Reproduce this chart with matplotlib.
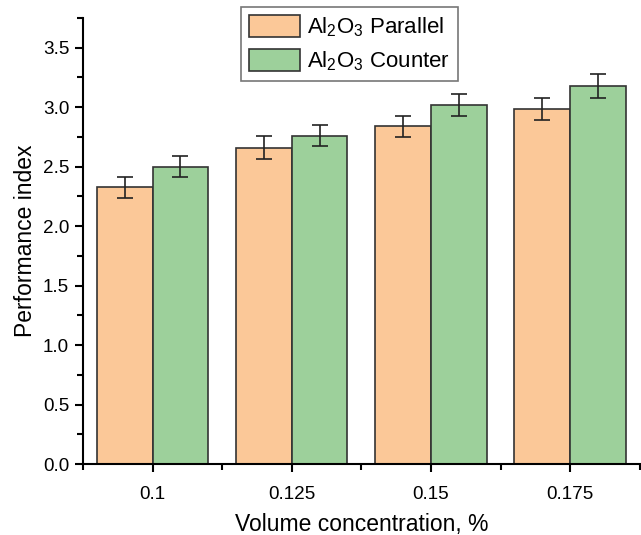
import numpy as np
import matplotlib.pyplot as plt
from matplotlib.ticker import MultipleLocator

plt.rcParams['font.family'] = ['Liberation Sans', 'DejaVu Sans']
plt.rcParams['mathtext.default'] = 'regular'

categories = ['0.1', '0.125', '0.15', '0.175']
parallel = [2.325, 2.66, 2.84, 2.985]
counter = [2.50, 2.76, 3.02, 3.175]
parallel_err = [0.09, 0.095, 0.09, 0.095]
counter_err = [0.09, 0.09, 0.095, 0.10]

fig = plt.figure(figsize=(6.41, 5.35), dpi=100)
ax = fig.add_axes([0.1295, 0.1327, 0.8685, 0.8337])

x = np.arange(len(categories))
w = 0.4
ekw = dict(elinewidth=1.2, capthick=1.2, ecolor='#222222')
ax.bar(x - w / 2, parallel, w, color='#FBC898', edgecolor='#333333', linewidth=1.2,
       yerr=parallel_err, capsize=6, error_kw=ekw, label='Al$_2$O$_3$ Parallel')
ax.bar(x + w / 2, counter, w, color='#9DD09B', edgecolor='#333333', linewidth=1.2,
       yerr=counter_err, capsize=6, error_kw=ekw, label='Al$_2$O$_3$ Counter')

ax.set_xlim(-0.5, 3.5)
ax.set_ylim(0, 3.75)
ax.set_xticks(x)
ax.set_xticklabels(categories)
ax.xaxis.set_minor_locator(MultipleLocator(1, offset=0.5))
ax.yaxis.set_major_locator(MultipleLocator(0.5))
ax.yaxis.set_minor_locator(MultipleLocator(0.25))
ax.yaxis.set_major_formatter(plt.FormatStrFormatter('%.1f'))

for s in ['top', 'right']:
    ax.spines[s].set_visible(False)
for s in ['left', 'bottom']:
    ax.spines[s].set_linewidth(1.5)
ax.tick_params(which='major', length=6, width=1.5, labelsize=13.6, pad=4)
ax.tick_params(which='minor', length=4, width=1.5)
ax.tick_params(axis='x', which='major', pad=10)

ax.set_xlabel('Volume concentration, %', fontsize=16.5, labelpad=7)
ax.set_ylabel('Performance index', fontsize=16.5, labelpad=4)

leg = ax.legend(loc='upper center', bbox_to_anchor=(0.479, 1.024), fontsize=16,
                frameon=True, fancybox=False, edgecolor='#555555',
                handlelength=2.3, handleheight=1.15, borderpad=0.35,
                handletextpad=0.3, labelspacing=0.45, borderaxespad=0)
leg.get_frame().set_linewidth(1.2)

fig.savefig('out.png', dpi=100)
